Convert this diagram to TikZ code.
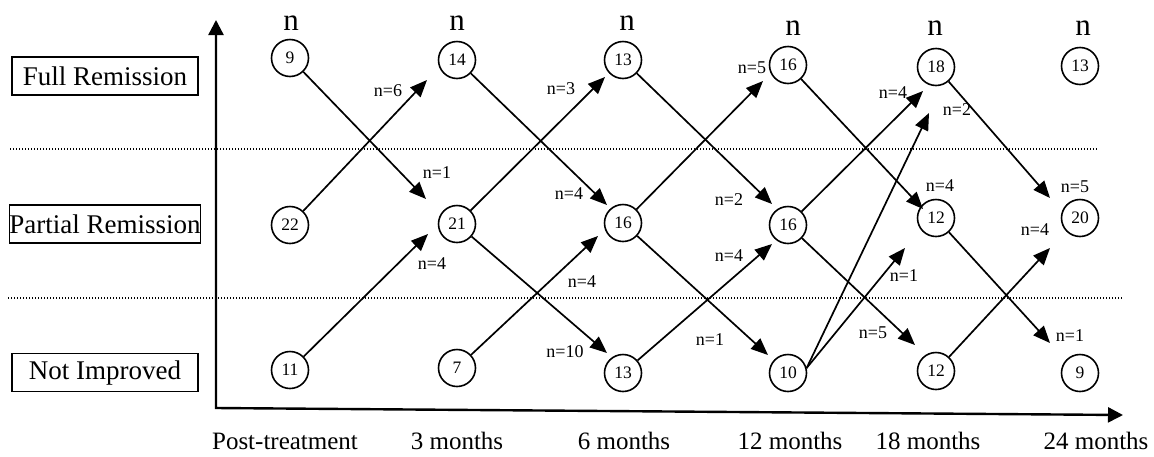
\documentclass[tikz,border=0pt]{standalone}
\usepackage{fontspec}
\setmainfont{Liberation Serif}
\usetikzlibrary{arrows.meta}
\begin{document}
\begin{tikzpicture}[x=1pt,y=-1pt,
  st/.style={circle,draw,line width=1.6pt,minimum size=37pt,inner sep=0pt,font=\fontsize{17.5}{17.5}\selectfont},
  arr/.style={line width=1.7pt,-{Triangle[length=17pt,width=14pt]}},
  lab/.style={font=\fontsize{18}{18}\selectfont,inner sep=0pt},
  hdr/.style={font=\fontsize{31}{31}\selectfont,inner sep=0pt},
  cat/.style={draw,line width=1.5pt,minimum width=186pt,minimum height=38pt,inner sep=0pt,font=\fontsize{27}{27}\selectfont},
  tim/.style={font=\fontsize{25}{25}\selectfont,inner sep=0pt},
  dots/.style={line width=1.3pt,dash pattern=on 1.2pt off 1.8pt},
  axis/.style={line width=2.4pt,line join=miter,{Triangle[length=15pt,width=15pt]}-{Triangle[length=15pt,width=15pt]}}
]
\useasboundingbox (0,0) rectangle (1154,456);

% dotted separators
\coordinate (d1a) at (10,149); \coordinate (d1b) at (1098,149);
\coordinate (d2a) at (8,298);  \coordinate (d2b) at (1123,298);
\draw[dots] (d1a) -- (d1b);
\draw[dots] (d2a) -- (d2b);

% axes
\coordinate (o) at (216,408);
\coordinate (ytop) at (216,20);
\coordinate (xend) at (1123,415);
\draw[axis] (ytop) -- (o) -- (xend);

% category boxes
\node[cat] (fr) at (105,76) {Full Remission};
\node[cat] (pr) at (105,224) {Partial Remission};
\node[cat] (ni) at (105,372.5) {Not Improved};

% headers
\node[hdr] (h1) at (291,23) {n};
\node[hdr] (h2) at (457,23) {n};
\node[hdr] (h3) at (627,23) {n};
\node[hdr] (h4) at (793,28) {n};
\node[hdr] (h5) at (935,28) {n};
\node[hdr] (h6) at (1083,28) {n};

% states
\node[st] (c1f) at (290,58) {9};
\node[st] (c1p) at (290,225) {22};
\node[st] (c1n) at (290,370) {11};
\node[st] (c2f) at (457,60) {14};
\node[st] (c2p) at (457,224) {21};
\node[st] (c2n) at (457,368) {7};
\node[st] (c3f) at (623,60) {13};
\node[st] (c3p) at (623,223) {16};
\node[st] (c3n) at (623,373) {13};
\node[st] (c4f) at (788,65) {16};
\node[st] (c4p) at (788,225) {16};
\node[st] (c4n) at (788,373) {10};
\node[st] (c5f) at (936,67) {18};
\node[st] (c5p) at (936,218) {12};
\node[st] (c5n) at (936,371) {12};
\node[st] (c6f) at (1080,66) {13};
\node[st] (c6p) at (1080,218) {20};
\node[st] (c6n) at (1080,373) {9};

% arrow tips
\coordinate (t1) at (426,199);
\coordinate (t2) at (427,80);
\coordinate (t3) at (428,234);
\coordinate (t4) at (607,205);
\coordinate (t5) at (605,77);
\coordinate (t6) at (607,353);
\coordinate (t7) at (598,236);
\coordinate (t8) at (772,204);
\coordinate (t9) at (763,81);
\coordinate (t10) at (768,355);
\coordinate (t11) at (772,244);
\coordinate (t12) at (923,209);
\coordinate (t13) at (923,91);
\coordinate (t14) at (915,345);
\coordinate (t15) at (929,113);
\coordinate (t16) at (905,248);
\coordinate (t17) at (1050,198);
\coordinate (t18) at (1050,343);
\coordinate (t19) at (1050,248);

\draw[arr] (c1f) -- (t1);
\draw[arr] (c1p) -- (t2);
\draw[arr] (c1n) -- (t3);
\draw[arr] (c2f) -- (t4);
\draw[arr] (c2p) -- (t5);
\draw[arr] (c2p) -- (t6);
\draw[arr] (c2n) -- (t7);
\draw[arr] (c3f) -- (t8);
\draw[arr] (c3p) -- (t9);
\draw[arr] (c3p) -- (t10);
\draw[arr] (c3n) -- (t11);
\draw[arr] (c4f) -- (t12);
\draw[arr] (c4p) -- (t13);
\draw[arr] (c4p) -- (t14);
\draw[arr] (c4n.15) -- (t15);
\draw[arr] (c4n.15) -- (t16);
\draw[arr] (c5f) -- (t17);
\draw[arr] (c5p) -- (t18);
\draw[arr] (c5n) -- (t19);

% transition labels
\node[lab] (l1) at (437,173) {n=1};
\node[lab] (l2) at (388,91) {n=6};
\node[lab] (l3) at (432,264) {n=4};
\node[lab] (l4) at (569,194) {n=4};
\node[lab] (l5) at (561,89) {n=3};
\node[lab] (l6) at (565,352) {n=10};
\node[lab] (l7) at (582,282) {n=4};
\node[lab] (l8) at (729,200) {n=2};
\node[lab] (l9) at (752,68) {n=5};
\node[lab] (l10) at (710,340) {n=1};
\node[lab] (l11) at (729,256) {n=4};
\node[lab] (l12) at (940,186) {n=4};
\node[lab] (l13) at (893,93) {n=4};
\node[lab] (l14) at (873,333) {n=5};
\node[lab] (l15) at (957,110) {n=2};
\node[lab] (l16) at (904,276) {n=1};
\node[lab] (l17) at (1075,187) {n=5};
\node[lab] (l18) at (1070,336) {n=1};
\node[lab] (l19) at (1035,230) {n=4};

% time labels
\node[tim] (x1) at (285,441) {Post-treatment};
\node[tim] (x2) at (457,441) {3 months};
\node[tim] (x3) at (624,441) {6 months};
\node[tim] (x4) at (790,441) {12 months};
\node[tim] (x5) at (928,441) {18 months};
\node[tim] (x6) at (1096,441) {24 months};
\end{tikzpicture}
\end{document}
